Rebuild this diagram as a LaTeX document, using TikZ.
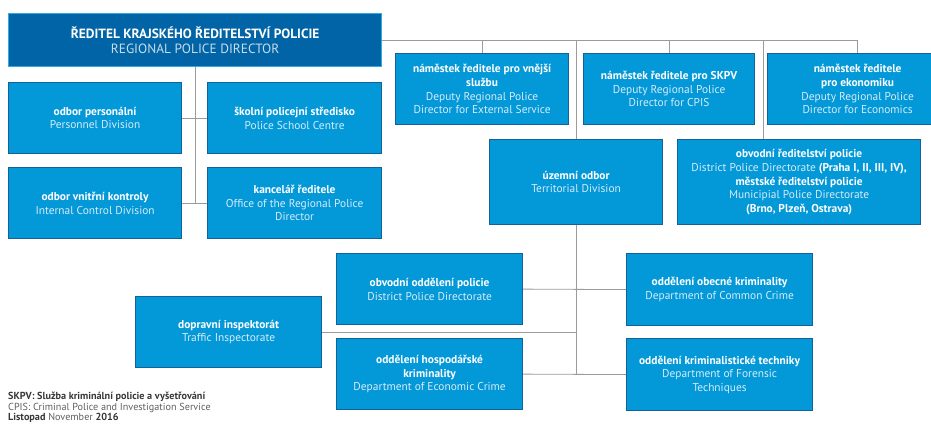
\documentclass[tikz,border=0pt]{standalone}
\usepackage{fontspec}
\setmainfont{PT Sans}
\definecolor{boxfill}{RGB}{3,152,216}
\definecolor{boxborder}{RGB}{20,96,152}
\definecolor{dirfill}{RGB}{0,100,166}
\definecolor{dirborder}{RGB}{45,172,228}
\definecolor{txtl}{RGB}{214,236,249}
\definecolor{dirtxt}{RGB}{200,220,236}
\definecolor{linegray}{RGB}{155,155,155}
\definecolor{footdark}{RGB}{55,55,55}
\definecolor{footgray}{RGB}{95,95,95}
\newcommand{\enl}[1]{\textcolor{txtl}{#1}}
\begin{document}
\begin{tikzpicture}[x=1pt,y=-1pt,
  orgbox/.style={draw=boxborder, fill=boxfill, line width=1.2pt, text=white,
    align=center, font=\fontsize{11.4}{13.6}\selectfont, inner sep=1pt, anchor=north west},
  dirbox/.style={orgbox, draw=dirborder, fill=dirfill, font=\fontsize{13.4}{14.5}\selectfont},
  conn/.style={draw=linegray, line width=0.8pt},
  foot/.style={anchor=west, inner sep=0pt, font=\fontsize{10.2}{10}\selectfont}]
\useasboundingbox (0,0) rectangle (931,423);

% left part
\node[dirbox, minimum width=373pt, minimum height=53pt] (dir) at (8,13)
  {\textbf{ŘEDITEL KRAJSKÉHO ŘEDITELSTVÍ POLICIE}\\\textcolor{dirtxt}{REGIONAL POLICE DIRECTOR}};
\node[orgbox, minimum width=173pt, minimum height=71pt] (pers) at (8,82)
  {\textbf{odbor personální}\\\enl{Personnel Division}};
\node[orgbox, minimum width=174pt, minimum height=71pt] (school) at (207,82)
  {\textbf{školní policejní středisko}\\\enl{Police School Centre}};
\node[orgbox, minimum width=173pt, minimum height=71pt] (internal) at (8,167)
  {\textbf{odbor vnitřní kontroly}\\\enl{Internal Control Division}};
\node[orgbox, minimum width=174pt, minimum height=71pt] (office) at (207,167)
  {\textbf{kancelář ředitele}\\\enl{Office of the Regional Police}\\\enl{Director}};

% deputies
\node[orgbox, minimum width=173pt, minimum height=71pt] (dep1) at (395,53)
  {\textbf{náměstek ředitele pro vnější}\\\textbf{službu}\\\enl{Deputy Regional Police}\\\enl{Director for External Service}};
\node[orgbox, minimum width=171pt, minimum height=71pt] (dep2) at (583,53)
  {\textbf{náměstek ředitele pro SKPV}\\\enl{Deputy Regional Police}\\\enl{Director for CPIS}};
\node[orgbox, minimum width=180pt, minimum height=71pt] (dep3) at (767,53)
  {\textbf{náměstek ředitele}\\\textbf{pro ekonomiku}\\\enl{Deputy Regional Police}\\\enl{Director for Economics}};

% second level
\node[orgbox, minimum width=173pt, minimum height=85pt] (terr) at (489,139)
  {\textbf{územní odbor}\\\enl{Territorial Division}};
\node[orgbox, minimum width=243pt, minimum height=85pt] (distdir) at (677,139)
  {\textbf{obvodní ředitelství policie}\\\enl{District Police Directorate} \textbf{(Praha I, II, III, IV),}\\\textbf{městské ředitelství policie}\\\enl{Municipial Police Directorate}\\\textbf{(Brno, Plzeň, Ostrava)}};

% territorial children
\node[orgbox, minimum width=186pt, minimum height=71pt] (obv) at (336,253)
  {\textbf{obvodní oddělení policie}\\\enl{District Police Directorate}};
\node[orgbox, minimum width=186pt, minimum height=71pt] (econ) at (336,338)
  {\textbf{oddělení hospodářské}\\\textbf{kriminality}\\\enl{Department of Economic Crime}};
\node[orgbox, minimum width=186pt, minimum height=71pt] (traffic) at (135,296)
  {\textbf{dopravní inspektorát}\\\enl{Traffic Inspectorate}};
\node[orgbox, minimum width=186pt, minimum height=72pt] (common) at (626,253)
  {\textbf{oddělení obecné kriminality}\\\enl{Department of Common Crime}};
\node[orgbox, minimum width=186pt, minimum height=72pt] (forensic) at (626,338)
  {\textbf{oddělení kriminalistické techniky}\\\enl{Department of Forensic}\\\enl{Techniques}};

% connectors
\draw[conn] (dir.south) -- (dir.south |- internal.east);
\draw[conn] (pers.east) -- (school.west);
\draw[conn] (internal.east) -- (office.west);
\draw[conn] (dir.east) -- (dep3.north |- dir.east) -- (dep3.north);
\draw[conn] (dep1.north |- dir.east) -- (dep1.north);
\draw[conn] (dep2.north |- dir.east) -- (dep2.north);
\draw[conn] (terr.north |- dir.east) -- (terr.north);
\coordinate (ddtop) at (763,139);
\draw[conn] (ddtop |- dir.east) -- (ddtop);
\draw[conn] (terr.south) -- (terr.south |- forensic.west);
\draw[conn] (obv.east) -- (common.west);
\draw[conn] (econ.east) -- (forensic.west);
\draw[conn] (traffic.east) -- (traffic.east -| terr.south);

% footer
\node[foot, text=footdark] (f1) at (8,397) {\textbf{SKPV: Služba kriminální policie a vyšetřování}};
\node[foot, text=footgray] (f2) at (8,407.5) {CPIS: Criminal Police and Investigation Service};
\node[foot, text=footgray] (f3) at (8,417.5) {\textcolor{footdark}{\textbf{Listopad}} November \textcolor{footdark}{\textbf{2016}}};
\end{tikzpicture}
\end{document}
